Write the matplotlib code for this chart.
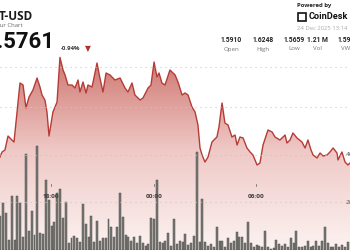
import numpy as np
import matplotlib
matplotlib.use("Agg")
import matplotlib.pyplot as plt
from matplotlib.colors import LinearSegmentedColormap
from matplotlib.patches import Polygon, Rectangle

# --- datos ------------------------------------------------------------------
# horas desde las 15:00 del 23 Dic
price_hours = [0.00, 0.12, 0.29, 0.47, 0.64, 0.82, 1.17, 1.35, 1.52, 1.70, 1.93, 2.17,
               2.34, 2.46, 2.63, 2.75, 2.87, 3.10, 3.34, 3.51, 3.69, 3.81, 3.98, 4.22,
               4.39, 4.57, 4.68, 4.86, 5.04, 5.15, 5.39, 5.68, 5.85, 6.03, 6.21, 6.44,
               6.73, 7.03, 7.32, 7.49, 7.73, 7.90, 8.20, 8.37, 8.67, 8.84, 9.02, 9.19,
               9.31, 9.48, 9.66, 9.95, 10.25, 10.42, 10.66, 10.83, 11.01, 11.24, 11.42,
               11.59, 11.71, 11.83, 12.00, 12.18, 12.41, 12.70, 12.82, 13.00, 13.17,
               13.35, 13.58, 13.76, 13.88, 14.05, 14.23, 14.46, 14.64, 14.81, 14.93,
               15.05, 15.22, 15.40, 15.69, 15.93, 16.10, 16.39, 16.69, 16.80, 16.98,
               17.15, 17.39, 17.68, 17.86, 18.03, 18.21, 18.33, 18.56, 18.74, 18.91,
               19.15, 19.32, 19.50, 19.73, 19.79, 20.02, 20.20, 20.37, 20.49]
price_values = [1.5750, 1.5775, 1.5785, 1.5855, 1.5840, 1.5825, 1.6120, 1.6110, 1.5995,
                1.6050, 1.6085, 1.6145, 1.6100, 1.6060, 1.6035, 1.5975, 1.5855, 1.5975,
                1.6025, 1.6248, 1.6185, 1.6160, 1.6110, 1.6110, 1.6095, 1.6135, 1.6075,
                1.6125, 1.6070, 1.6110, 1.6100, 1.6220, 1.6145, 1.6075, 1.6170, 1.6160,
                1.6135, 1.6145, 1.6095, 1.6075, 1.6120, 1.6060, 1.6035, 1.6045, 1.6095,
                1.6110, 1.6225, 1.6150, 1.6170, 1.6120, 1.6110, 1.6185, 1.6160, 1.6125,
                1.6060, 1.6070, 1.6060, 1.6000, 1.5975, 1.5910, 1.5795, 1.5760, 1.5725,
                1.5750, 1.5825, 1.5850, 1.5900, 1.6020, 1.5920, 1.5910, 1.5850, 1.5860,
                1.5810, 1.5850, 1.5845, 1.5795, 1.5775, 1.5760, 1.5735, 1.5710, 1.5720,
                1.5810, 1.5885, 1.5875, 1.5850, 1.5835, 1.5860, 1.5820, 1.5835, 1.5870,
                1.5845, 1.5825, 1.5795, 1.5835, 1.5785, 1.5760, 1.5745, 1.5770, 1.5755,
                1.5760, 1.5775, 1.5795, 1.5770, 1.5735, 1.5775, 1.5725, 1.5710, 1.5720]

# volumen cada 10 min (miles)
volume_k = [145, 200, 157, 43, 230, 43, 230, 200, 55, 408, 81, 166, 64, 443, 72, 68, 298,
            213, 102, 119, 243, 260, 136, 204, 30, 51, 60, 51, 34, 196, 111, 55, 145, 34,
            123, 38, 51, 51, 132, 98, 55, 98, 243, 140, 64, 55, 38, 55, 30, 60, 30, 17, 26,
            136, 132, 298, 34, 30, 38, 72, 17, 132, 26,
            38, 34, 68, 21, 30, 60, 417, 34, 217, 34, 17, 26, 13, 98, 38, 38, 13, 51, 30,
            38, 77, 55, 55, 30, 119, 30, 13, 21, 17, 13, 81, 13, 4, 9, 43, 26, 17, 26, 13,
            51, 30, 81, 13, 13, 17, 38, 13, 17, 38, 17, 38, 98, 30, 13, 13, 26, 13, 21, 13, 34]

time_labels = ["18:00", "00:00", "06:00"]
time_label_hours = [3.0, 9.0, 15.0]

stat_values = ["1.5910", "1.6248", "1.5659", "1.21 M", "1.59"]
stat_names = ["Open", "High", "Low", "Vol", "VWAP"]

# --- figura -----------------------------------------------------------------
W, H = 350, 250
PX_H = 17.08          # pixeles por hora
PX_P = 2000.0         # pixeles por unidad de precio
FONT = "Open Sans"
fig = plt.figure(figsize=(3.5, 2.5), dpi=100)
fig.patch.set_facecolor("white")
ax = fig.add_axes([0, 0, 1, 1])
ax.set_xlim(0, W / PX_H)
ax.set_ylim(1.62 - (H - 67) / PX_P, 1.62 + 67 / PX_P)
ax.axis("off")

axv = ax.twinx()
axv.set_ylim(0, H * 200 / 47.0)
axv.axis("off")

def fx(x):
    return x / W

def fy(y):
    return 1 - y / H

# relleno con degradado bajo la curva
ybot = ax.get_ylim()[0]
verts = [(price_hours[0], ybot)] + list(zip(price_hours, price_values)) + [(price_hours[-1], ybot)]
poly = Polygon(verts, closed=True, facecolor="none", edgecolor="none")
ax.add_patch(poly)
cmap = LinearSegmentedColormap.from_list("grad", ["#fcf3f2", "#efc9c6", "#cd716b"])
grad = np.linspace(0, 1, 256).reshape(-1, 1)
im = ax.imshow(grad, cmap=cmap, aspect="auto", origin="lower",
               extent=[0, W / PX_H, ybot, 1.6280], zorder=1)
im.set_clip_path(poly)

ax.plot(price_hours, price_values, color="#b53c36", lw=1.0, zorder=4)

# cuadricula punteada
for yy in [67, 107, 155, 202]:
    fig.add_artist(plt.Line2D([0, 1], [fy(yy), fy(yy)], color="#c9c9c9", lw=0.8,
                              linestyle=(0, (1, 3.5)), zorder=2))

# barras de volumen
bar_hours = np.arange(len(volume_k)) / 6.0 + 0.02
axv.bar(bar_hours, volume_k, width=0.115, color="#777774", edgecolor="#50504e",
        linewidth=0.35, zorder=3)

# etiquetas de tiempo
for lab, h in zip(time_labels, time_label_hours):
    x = h * PX_H
    fig.text(fx(x), fy(196), lab, ha="center", va="center", fontsize=4.6,
             fontweight="bold", color="#3a3a3a", family=FONT, zorder=6)
    fig.add_artist(plt.Line2D([fx(x), fx(x)], [fy(184), fy(186)], color="#777", lw=0.6))

# etiquetas del volumen (cortadas en el borde)
fig.text(fx(346), fy(155), "400K", ha="left", va="center", fontsize=4.6, color="#555",
         family=FONT)
fig.text(fx(346), fy(202), "200K", ha="left", va="center", fontsize=4.6, color="#555",
         family=FONT)

# cabecera
fig.text(fx(-1), fy(16), "T-USD", ha="left", va="center", fontsize=8.5, fontweight="bold",
         color="#1a1a1a", family=FONT)
fig.text(fx(23), fy(25.5), "24 Hour Chart", ha="right", va="center", fontsize=4.3,
         color="#666", family=FONT)
fig.text(fx(54), fy(42), "1.5761", ha="right", va="center", fontsize=16, fontweight="bold",
         color="#111", family="Roboto")
fig.text(fx(61), fy(48), "-0.94%", ha="left", va="center", fontsize=4.3, fontweight="bold",
         color="#333", family=FONT)
fig.text(fx(88), fy(49), "\u25BC", ha="center", va="center", fontsize=5.5,
         color="#b0302a", family="DejaVu Sans")

fig.text(fx(297), fy(6), "Powered by", ha="left", va="center", fontsize=4.3,
         fontweight="bold", color="#222", family=FONT)
fig.add_artist(Rectangle((fx(298), fy(21)), 8 / W, 8 / H, facecolor="none",
                         edgecolor="#111", lw=1.2))
fig.text(fx(308.5), fy(16.5), "CoinDesk", ha="left", va="center", fontsize=6.6,
         fontweight="bold", color="#111", family="Roboto")
fig.text(fx(297), fy(29), "24 Dec 2025 13:14", ha="left", va="center", fontsize=4.2,
         color="#aaa", family=FONT)

stat_x = [231.5, 263, 294, 317.5, 338]
for i in range(len(stat_values)):
    ha = "left" if i == len(stat_values) - 1 else "center"
    fig.text(fx(stat_x[i]), fy(39.5), stat_values[i], ha=ha, va="center", fontsize=4.9,
             fontweight="bold", color="#222", family="Roboto")
    fig.text(fx(stat_x[i] + (3 if ha == "left" else 0)), fy(49), stat_names[i], ha=ha,
             va="center", fontsize=4.4, color="#777", family=FONT)

fig.savefig("out.png", dpi=100, facecolor="white")
